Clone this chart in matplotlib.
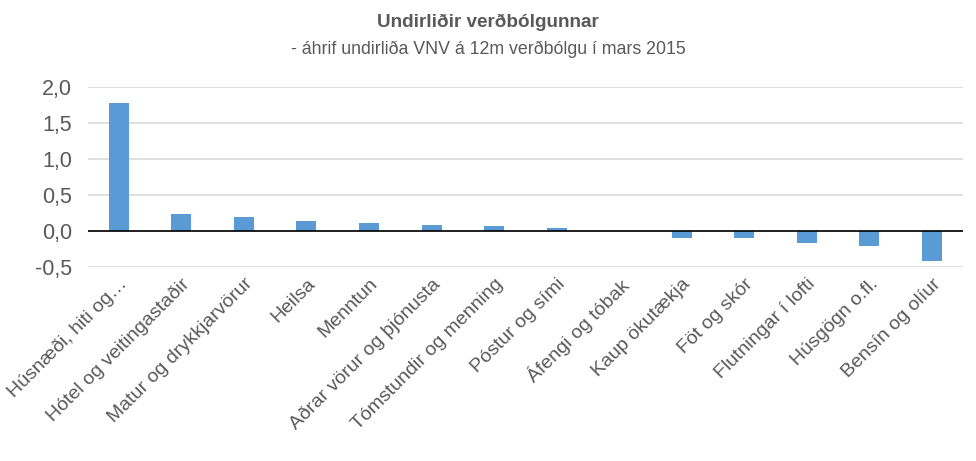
import matplotlib.pyplot as plt

plt.rcParams['font.family'] = ['Liberation Sans', 'DejaVu Sans']

categories = [
    "Húsnæði, hiti og…", "Hótel og veitingastaðir", "Matur og drykkjarvörur",
    "Heilsa", "Menntun", "Aðrar vörur og þjónusta", "Tómstundir og menning",
    "Póstur og sími", "Áfengi og tóbak", "Kaup ökutækja", "Föt og skór",
    "Flutningar í lofti", "Húsgögn o.fl.", "Bensín og olíur",
]
values = [1.77, 0.23, 0.19, 0.135, 0.105, 0.085, 0.07,
          0.035, 0.0, -0.10, -0.10, -0.165, -0.21, -0.42]
yticks = [-0.5, 0.0, 0.5, 1.0, 1.5, 2.0]

TEXT = "#595959"
BAR = "#5b9bd5"

fig = plt.figure(figsize=(9.76, 4.61), dpi=100)
ax = fig.add_axes([0.0898, 0.4208, 0.8969, 0.3912])

x = range(len(categories))
ax.bar(x, values, width=0.32, color=BAR, zorder=3)
ax.axhline(0, color="black", lw=1.2, zorder=4)

ax.set_ylim(-0.5, 2.0)
ax.set_xlim(-0.5, len(categories) - 0.5)
ax.set_yticks(yticks)
ax.set_yticklabels([f"{v:.1f}".replace(".", ",") for v in yticks],
                   fontsize=15.5, color=TEXT)
ax.set_xticks(list(x))
ax.set_xticklabels(categories, rotation=45, ha="right", rotation_mode="anchor",
                   fontsize=14, color=TEXT)
ax.tick_params(axis="x", length=0, pad=6)
ax.tick_params(axis="y", length=0, pad=11)
ax.grid(axis="y", color="#d9d9d9", lw=1.2, zorder=0)
for s in ax.spines.values():
    s.set_visible(False)

fig.text(0.5, 0.951, "Undirliðir verðbólgunnar", ha="center", va="center",
         fontsize=13.6, fontweight="bold", color=TEXT)
fig.text(0.5, 0.893, "- áhrif undirliða VNV á 12m verðbólgu í mars 2015",
         ha="center", va="center", fontsize=12.8, color=TEXT)

fig.savefig("out.png", dpi=100)
